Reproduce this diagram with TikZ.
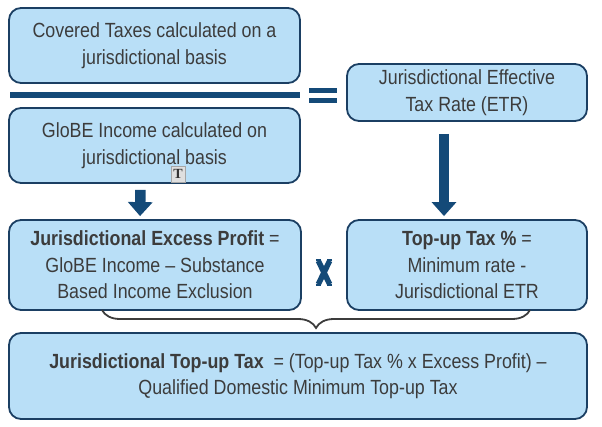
\documentclass[tikz,border=0pt]{standalone}
\usepackage{fontspec}
\setmainfont{Liberation Sans}[FakeStretch=0.87]
\newfontfamily\iconfont{Liberation Serif}
\usetikzlibrary{arrows.meta,decorations.pathreplacing}
\definecolor{boxfill}{HTML}{B9DFF7}
\definecolor{boxline}{HTML}{1B3F63}
\definecolor{navy}{HTML}{144A78}
\definecolor{txt}{HTML}{3C3C3C}
\tikzset{
  panel/.style={draw=boxline, line width=1.8pt, fill=boxfill, rounded corners=12pt,
    text=txt, align=center, inner sep=0pt,
    font=\fontsize{20.5}{26.5}\selectfont},
  bigarrow/.style={draw=navy, line width=10.5pt, -{Triangle[width=24pt,length=14pt]}, navy},
}
\begin{document}
\begin{tikzpicture}[x=1pt,y=-1pt]
\useasboundingbox (0,0) rectangle (602,427);
\node[panel, minimum width=291pt, minimum height=75pt] (cov) at (154.5,45.5)
  {Covered Taxes calculated on a\\jurisdictional basis};
\node[panel, minimum width=291pt, minimum height=75pt] (globe) at (154.5,145.5)
  {GloBE Income calculated on\\jurisdictional basis};
\node[panel, minimum width=240pt, minimum height=57pt] (etr) at (467,92.5)
  {Jurisdictional Effective\\Tax Rate (ETR)};
\node[panel, minimum width=292pt, minimum height=90pt] (excess) at (155,265)
  {\textbf{Jurisdictional Excess Profit} =\\GloBE Income -- Substance\\Based Income Exclusion};
\node[panel, minimum width=240pt, minimum height=90pt] (topup) at (467,265)
  {\textbf{Top-up Tax \%} =\\Minimum rate -\\Jurisdictional ETR};
\node[panel, minimum width=578pt, minimum height=86pt] (total) at (298,376)
  {\textbf{Jurisdictional Top-up Tax}\ \ = (Top-up Tax \% x Excess Profit) --\\Qualified Domestic Minimum Top-up Tax};
% fraction bar and equals sign
\fill[navy] (10,92) rectangle (300,98);
\node[fill=navy, minimum width=28pt, minimum height=5.5pt, inner sep=0pt] (eqa) at (323,90.5) {};
\node[fill=navy, minimum width=28pt, minimum height=5.5pt, inner sep=0pt] (eqb) at (323,100.5) {};
% arrows
\draw[bigarrow, shorten <=6pt, shorten >=3pt] ([xshift=-14pt]globe.south) -- ([xshift=-15pt]excess.north);
\draw[bigarrow, shorten <=12pt, shorten >=3pt] ([xshift=-23pt]etr.south) -- ([xshift=-23pt]topup.north);
% multiplication sign
\node[inner sep=0pt, minimum width=18pt, minimum height=27pt] (times) at (324,272.5) {};
\draw[navy, line width=5.5pt] ([xshift=3.5pt,yshift=-2pt]times.north west) -- ([xshift=-3.5pt,yshift=2pt]times.south east);
\draw[navy, line width=5.5pt] ([xshift=-3.5pt,yshift=-2pt]times.north east) -- ([xshift=3.5pt,yshift=2pt]times.south west);
\draw[navy, line width=2pt] ([xshift=1pt,yshift=-1pt]times.north west) -- ([xshift=6pt,yshift=-1pt]times.north west)
  ([xshift=-1pt,yshift=-1pt]times.north east) -- ([xshift=-6pt,yshift=-1pt]times.north east)
  ([xshift=1pt,yshift=1pt]times.south west) -- ([xshift=6pt,yshift=1pt]times.south west)
  ([xshift=-1pt,yshift=1pt]times.south east) -- ([xshift=-6pt,yshift=1pt]times.south east);
% brace
\coordinate (bl) at (102,310);
\coordinate (br) at (530,310);
\draw[draw=txt, line width=1.8pt, decorate, decoration={brace, mirror, amplitude=18pt}] (bl) -- (br);
% text cursor icon
\node[draw=gray!70, fill=gray!25, minimum width=14pt, minimum height=16pt, inner sep=0pt,
  font=\iconfont\bfseries\fontsize{14}{14}\selectfont, text=black!80] (icon) at (178,174) {T};
\end{tikzpicture}
\end{document}
